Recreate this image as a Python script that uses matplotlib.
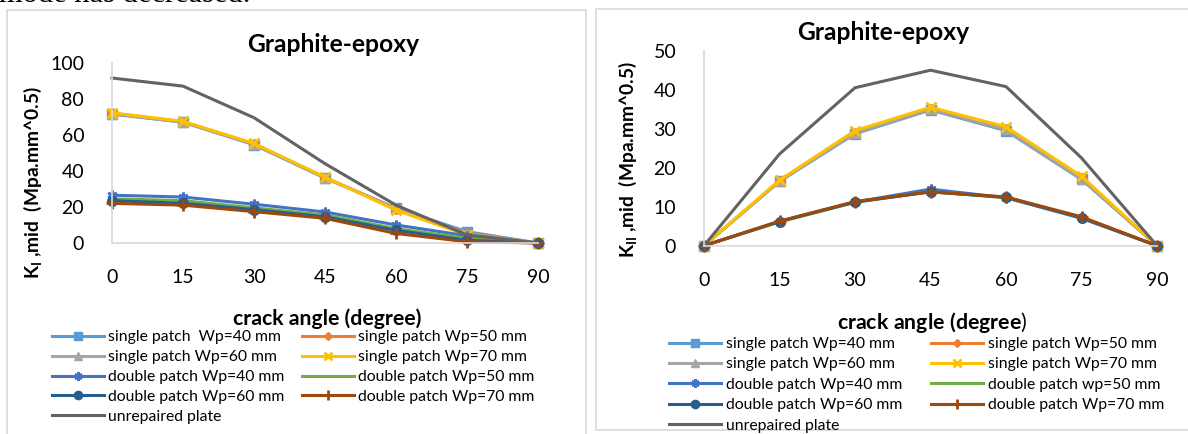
import matplotlib
matplotlib.use("Agg")
import matplotlib.pyplot as plt
from matplotlib.patches import Rectangle

plt.rcParams["font.family"] = ["Lato", "DejaVu Sans"]
plt.rcParams["mathtext.fontset"] = "custom"
plt.rcParams["mathtext.rm"] = "Lato"
plt.rcParams["mathtext.bf"] = "Lato:bold"
plt.rcParams["mathtext.it"] = "Lato:italic"

# crack angles (degree)
angles = [0, 15, 30, 45, 60, 75, 90]

# mode I stress intensity factor, K_I mid (Mpa.mm^0.5)
ki_single_40 = [71.5, 67.0, 54.5, 36.0, 19.3, 6.3, 0]
ki_single_50 = [72.0, 67.2, 55.0, 36.3, 19.0, 5.5, 0]
ki_single_60 = [71.8, 67.0, 54.8, 36.2, 19.2, 5.0, 0]
ki_single_70 = [72.2, 67.5, 55.2, 36.5, 18.2, 4.4, 0]
ki_double_40 = [26.5, 25.5, 21.5, 17.2, 10.0, 4.0, 0]
ki_double_50 = [24.5, 23.5, 19.5, 15.5, 8.0, 2.5, 0]
ki_double_60 = [23.5, 22.0, 18.5, 14.5, 7.0, 1.5, 0]
ki_double_70 = [22.0, 21.0, 17.4, 13.7, 5.3, 0.7, 0]
ki_unrepaired = [91.5, 87.0, 69.5, 44.0, 21.0, 4.5, 0]

# mode II stress intensity factor, K_II mid (Mpa.mm^0.5)
kii_single_40 = [0, 16.5, 28.7, 34.8, 29.5, 17.0, 0]
kii_single_50 = [0, 16.6, 29.0, 35.0, 29.8, 17.3, 0]
kii_single_60 = [0, 16.5, 28.9, 35.0, 29.8, 17.2, 0]
kii_single_70 = [0, 16.8, 29.5, 35.5, 30.5, 17.8, 0]
kii_double_40 = [0, 6.2, 11.2, 14.5, 12.3, 7.0, 0]
kii_double_50 = [0, 6.1, 11.1, 13.9, 12.3, 7.2, 0]
kii_double_60 = [0, 6.2, 11.2, 13.8, 12.4, 7.2, 0]
kii_double_70 = [0, 6.3, 11.3, 13.8, 12.5, 7.4, 0]
kii_unrepaired = [0, 23.5, 40.5, 45.0, 40.8, 22.5, 0]

labels_left = ["single patch  Wp=40 mm", "single patch Wp=50 mm", "single patch Wp=60 mm",
               "single patch Wp=70 mm", "double patch Wp=40 mm", "double patch Wp=50 mm",
               "double patch Wp=60 mm", "double patch Wp=70 mm", "unrepaired plate"]
labels_right = ["single patch Wp=40 mm", "single patch Wp=50 mm", "single patch Wp=60 mm",
                "single patch Wp=70 mm", "double patch Wp=40 mm", "double patch wp=50 mm",
                "double patch Wp=60 mm", "double patch Wp=70 mm", "unrepaired plate"]

colors = ["#5B9BD5", "#ED7D31", "#A5A5A5", "#FFC000", "#4472C4",
          "#70AD47", "#255E91", "#9E480E", "#636363"]
markers = ["s", "D", "^", "x", (6, 2, 0), "_", "o", "+", None]
msizes = [7, 5, 7, 7, 7, 6, 7, 8, 0]

W, H = 1188, 434


def fx(x):
    return x / W


def fy(y):
    return 1 - y / H


def draw_panel(ax, series, labels, yticks):
    handles = []
    for vals, lab, c, m, ms in zip(series, labels, colors, markers, msizes):
        ln, = ax.plot(angles, vals, color=c, lw=2.2, marker=m, ms=ms,
                      mew=2 if m in ("x", "+", "_", (6, 2, 0)) else 1,
                      mfc=c, mec=c, label=lab, clip_on=False)
        handles.append(ln)
    ax.set_xlim(0, 90)
    ax.set_ylim(yticks[0], yticks[-1])
    ax.set_xticks(angles)
    ax.set_yticks(yticks)
    ax.tick_params(length=0, labelsize=14, colors="#000000")
    ax.tick_params(axis="y", pad=20)
    ax.tick_params(axis="x", pad=19)
    for s in ("top", "right"):
        ax.spines[s].set_visible(False)
    for s in ("left", "bottom"):
        ax.spines[s].set_color("#d9d9d9")
        ax.spines[s].set_linewidth(1.2)
    ax.set_facecolor("none")
    return handles


def add_legends(fig, handles, x1, x2, ytop, spacing):
    # two single-column legends, laid out row by row like the spreadsheet legend
    col1 = [handles[i] for i in (0, 2, 4, 6, 8)]
    col2 = [handles[i] for i in (1, 3, 5, 7)]
    for cols, x in ((col1, x1), (col2, x2)):
        fig.legend(handles=cols, loc="upper left", bbox_to_anchor=(fx(x), fy(ytop)),
                   frameon=False, fontsize=11.3, borderpad=0, borderaxespad=0,
                   handlelength=3.3, handletextpad=0.3, labelspacing=spacing,
                   markerscale=0.85)


fig = plt.figure(figsize=(W / 100, H / 100), dpi=100)

# panel frames
fig.add_artist(Rectangle((fx(7), fy(440)), fx(585.5 - 7), (440 - 10) / H,
                         transform=fig.transFigure, fill=False, ec="#d9d9d9", lw=1.2))
fig.add_artist(Rectangle((fx(596), fy(430)), fx(1200 - 596), (430 - 9) / H,
                         transform=fig.transFigure, fill=False, ec="#d9d9d9", lw=1.2))

# running text of the page above the charts
fig.text(fx(-1), fy(2.5), "mode has decreased.", fontsize=22, family="Liberation Serif",
         va="baseline", ha="left")

ax1 = fig.add_axes([fx(112), fy(243), (538 - 112) / W, (243 - 62.7) / H])
h1 = draw_panel(ax1, [ki_single_40, ki_single_50, ki_single_60, ki_single_70,
                      ki_double_40, ki_double_50, ki_double_60, ki_double_70,
                      ki_unrepaired], labels_left, [0, 20, 40, 60, 80, 100])

ax2 = fig.add_axes([fx(704), fy(245.7), (1157 - 704) / W, (245.7 - 50.7) / H])
h2 = draw_panel(ax2, [kii_single_40, kii_single_50, kii_single_60, kii_single_70,
                      kii_double_40, kii_double_50, kii_double_60, kii_double_70,
                      kii_unrepaired], labels_right, [0, 10, 20, 30, 40, 50])

fig.text(fx(333), fy(44), "Graphite-epoxy", fontsize=17.7, fontweight="bold",
         ha="center", va="center")
fig.text(fx(883.5), fy(32), "Graphite-epoxy", fontsize=17.7, fontweight="bold",
         ha="center", va="center")

fig.text(fx(327), fy(319), "crack angle (degree)", fontsize=15.3, fontweight="bold",
         ha="center", va="center")
fig.text(fx(932), fy(322.7), r"$\mathbf{crack\ angle\ (degree}$)", fontsize=15.3,
         ha="center", va="center")

fig.text(fx(33), fy(183), r"$\mathbf{K_{I}}$ ,mid  (Mpa.mm^0.5)", fontsize=13.8,
         fontweight="bold", rotation=90, ha="center", va="center")
fig.text(fx(628), fy(160), r"$\mathbf{K_{II}}$ ,mid  (Mpa.mm^0.5)", fontsize=13.8,
         fontweight="bold", rotation=90, ha="center", va="center")

add_legends(fig, h1, 52, 302, 330.5, 0.37)
add_legends(fig, h2, 669, 931, 337, 0.41)

fig.savefig("out.png", dpi=100)
